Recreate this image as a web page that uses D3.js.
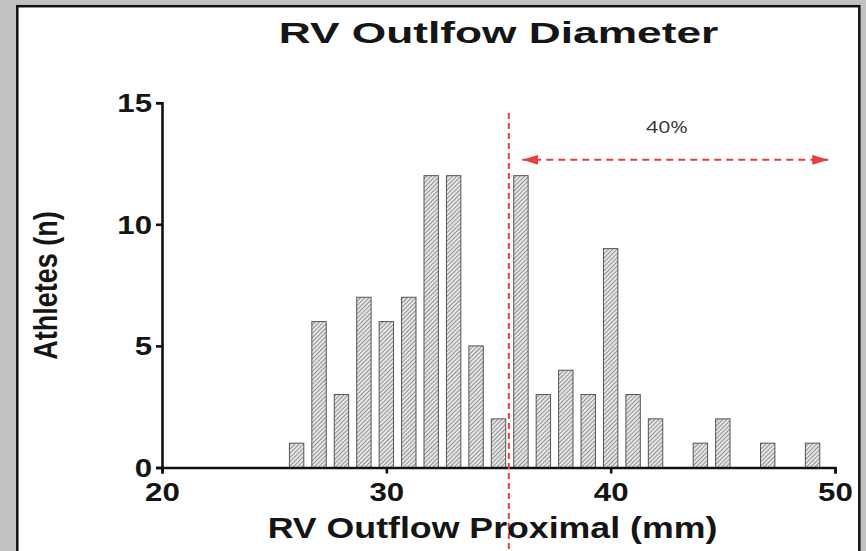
<!DOCTYPE html>
<html>
<head>
<meta charset="utf-8">
<script src="https://cdn.jsdelivr.net/npm/d3@7"></script>
<style>
  body { margin: 0; background: #c1c1c1; }
  svg { display: block; }
</style>
</head>
<body>
<div id="chart"></div>
<script>
// histogram bins (mm) and athlete counts
var diameters = [26, 27, 28, 29, 30, 31, 32, 33, 34, 35, 36, 37, 38, 39, 40, 41, 42, 43, 44, 45, 46, 47, 48, 49];
var athletes  = [1, 6, 3, 7, 6, 7, 12, 12, 5, 2, 12, 3, 4, 3, 9, 3, 2, 0, 1, 2, 0, 1, 0, 1];
var xTicks = [20, 30, 40, 50];
var yTicks = [0, 5, 10, 15];
var cutoff = 35.46;          // red dashed threshold
var arrowRange = [36.06, 49.7];
var arrowLevel = 12.65;
var arrowLabel = "40%";

var width = 866, height = 551;
var margin = {left: 162, right: 31, top: 102.7, bottom: 83.5};
var red = "#ea3d3f";
var font = "Liberation Sans, Arial, sans-serif";

var svg = d3.select("#chart").append("svg")
    .attr("width", width)
    .attr("height", height);

var defs = svg.append("defs");
var pat = defs.append("pattern")
    .attr("id", "hatch")
    .attr("patternUnits", "userSpaceOnUse")
    .attr("width", 3).attr("height", 3)
    .attr("patternTransform", "rotate(45)");
pat.append("rect").attr("width", 3).attr("height", 3).attr("fill", "#e6e6e6");
pat.append("line").attr("x1", 0).attr("y1", 0).attr("x2", 0).attr("y2", 3)
    .attr("stroke", "#5a5a5a").attr("stroke-width", 1.2);

var mk = defs.append("marker")
    .attr("id", "arr")
    .attr("viewBox", "0 0 16 10")
    .attr("refX", 16).attr("refY", 5)
    .attr("markerWidth", 16).attr("markerHeight", 10)
    .attr("markerUnits", "userSpaceOnUse")
    .attr("orient", "auto-start-reverse");
mk.append("path").attr("d", "M0,0L16,5L0,10z").attr("fill", red);

// white panel
svg.append("rect")
    .attr("x", 17.3).attr("y", 6.2)
    .attr("width", 842).attr("height", 560)
    .attr("fill", "#fff")
    .attr("stroke", "#111").attr("stroke-width", 2.5);

var x = d3.scaleLinear().domain([20, 50]).range([margin.left, width - margin.right]);
var y = d3.scaleLinear().domain([0, 15]).range([height - margin.bottom, margin.top]);
var bw = 14.4;

var bins = diameters.map(function(d, i) { return {mm: d, n: athletes[i]}; })
    .filter(function(d) { return d.n > 0; });

svg.append("g").selectAll("rect")
    .data(bins)
    .enter().append("rect")
    .attr("x", function(d) { return x(d.mm) - bw / 2; })
    .attr("y", function(d) { return y(d.n); })
    .attr("width", bw)
    .attr("height", function(d) { return y(0) - y(d.n); })
    .attr("fill", "url(#hatch)")
    .attr("stroke", "#555").attr("stroke-width", 1);

var xAxis = svg.append("g")
    .attr("transform", "translate(0," + y(0) + ")")
    .call(d3.axisBottom(x).tickValues(xTicks).tickSize(6));
var yAxis = svg.append("g")
    .attr("transform", "translate(" + x(20) + ",0)")
    .call(d3.axisLeft(y).tickValues(yTicks).tickSize(6));

[xAxis, yAxis].forEach(function(a) {
  a.select(".domain").attr("stroke", "#111").attr("stroke-width", 2.6);
  a.selectAll(".tick line").attr("stroke", "#111").attr("stroke-width", 2.6);
  a.selectAll(".tick text")
      .attr("fill", "#151515")
      .attr("transform", "scale(1.25,1)")
      .style("font-family", font)
      .style("font-weight", "bold")
      .style("font-size", "25px");
});
xAxis.selectAll(".tick text").attr("y", 15.5);
yAxis.selectAll(".tick text").attr("x", -8).attr("dy", "0.36em");

// threshold line and arrow
svg.append("line")
    .attr("x1", x(cutoff)).attr("x2", x(cutoff))
    .attr("y1", 113).attr("y2", height)
    .attr("stroke", red).attr("stroke-width", 2)
    .attr("stroke-dasharray", "6,4");

svg.append("line")
    .attr("x1", x(arrowRange[0])).attr("x2", x(arrowRange[1]))
    .attr("y1", y(arrowLevel)).attr("y2", y(arrowLevel))
    .attr("stroke", red).attr("stroke-width", 2)
    .attr("stroke-dasharray", "7,5")
    .attr("marker-start", "url(#arr)")
    .attr("marker-end", "url(#arr)");

svg.append("text")
    .attr("transform", "translate(667,133.3) scale(1.25,1)")
    .attr("text-anchor", "middle")
    .attr("fill", "#333")
    .style("font-family", "Open Sans, sans-serif")
    .style("font-size", "17px")
    .text(arrowLabel);

svg.append("text")
    .attr("transform", "translate(498.5,43.3) scale(1.476,1)")
    .attr("text-anchor", "middle")
    .attr("fill", "#151515")
    .style("font-family", font).style("font-weight", "bold").style("font-size", "30px")
    .text("RV Outlfow Diameter");

svg.append("text")
    .attr("transform", "translate(492.5,538.3) scale(1.19,1)")
    .attr("text-anchor", "middle")
    .attr("fill", "#151515")
    .style("font-family", font).style("font-weight", "bold").style("font-size", "30px")
    .text("RV Outflow Proximal (mm)");

svg.append("text")
    .attr("transform", "translate(57,285.5) scale(1.24,1) rotate(-90)")
    .attr("text-anchor", "middle")
    .attr("fill", "#151515")
    .style("font-family", font).style("font-weight", "bold").style("font-size", "27px")
    .text("Athletes (n)");
</script>
</body>
</html>
